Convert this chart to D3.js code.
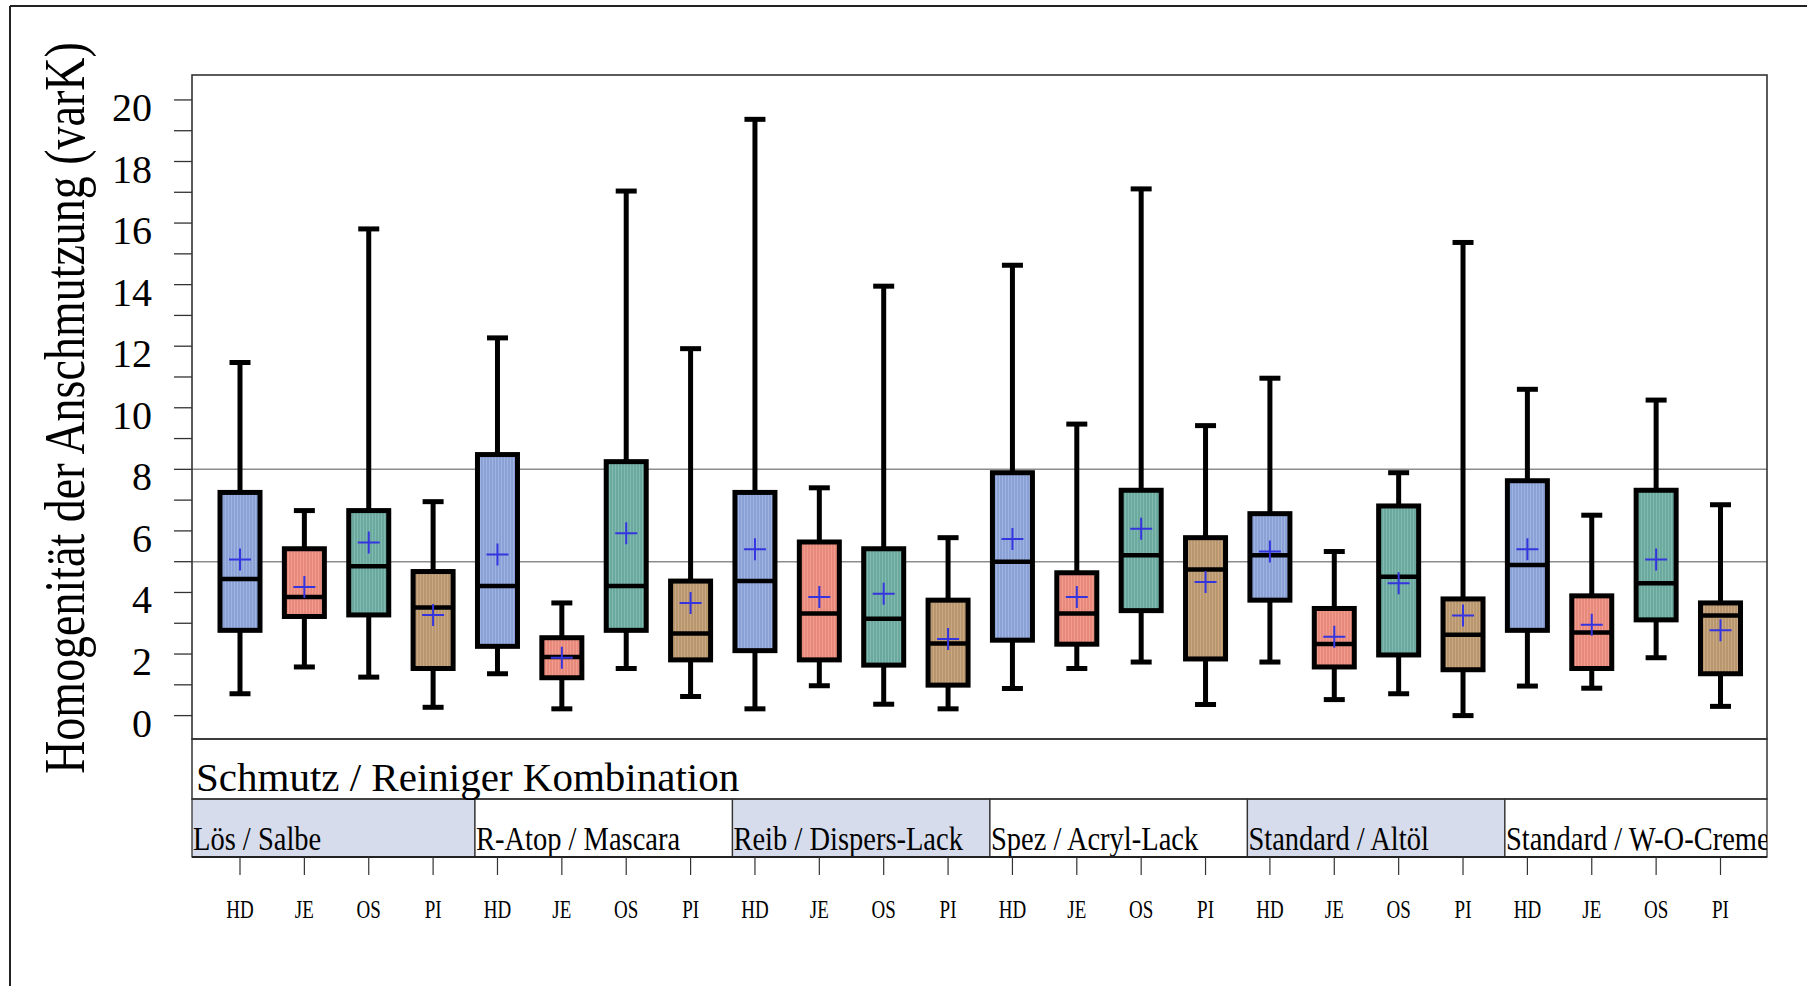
<!DOCTYPE html>
<html>
<head>
<meta charset="utf-8">
<script src="https://cdn.jsdelivr.net/npm/d3@7"></script>
<style>
  html, body { margin: 0; padding: 0; background: #fff; }
  svg { display: block; }
  text { font-family: "Liberation Serif", "DejaVu Serif", serif; fill: #000; }
</style>
</head>
<body>
<svg id="chart" width="1807" height="986"></svg>
<script>
// ---------------- data ----------------
const groups = ["Lös / Salbe", "R-Atop / Mascara", "Reib / Dispers-Lack", "Spez / Acryl-Lack", "Standard / Altöl", "Standard / W-O-Creme"];
const cleaners = ["HD", "JE", "OS", "PI"];
const yTicks = [0, 2, 4, 6, 8, 10, 12, 14, 16, 18, 20];
const refLines = [5, 8];

// one entry per (group, cleaner), in group order
const whiskerHigh = [11.47, 6.66, 15.81, 6.95,  12.27, 3.66, 17.04, 11.92,  19.37, 7.40, 13.95, 5.78,  14.63, 9.47, 17.11, 9.42,  10.96, 5.33, 7.89, 15.37,  10.60, 6.51, 10.25, 6.85];
const q3          = [7.25, 5.42, 6.66, 4.68,   8.48, 2.53, 8.25, 4.37,    7.25, 5.64, 5.42, 3.75,    7.89, 4.64, 7.32, 5.78,    6.56, 3.48, 6.81, 3.79,    7.63, 3.89, 7.32, 3.66];
const median      = [4.44, 3.85, 4.85, 3.51,   4.21, 1.90, 4.21, 2.67,    4.37, 3.32, 3.15, 2.34,    5.00, 3.32, 5.21, 4.75,    5.21, 2.33, 4.51, 2.63,    4.89, 2.70, 4.30, 3.25];
const q1          = [2.77, 3.22, 3.27, 1.53,   2.25, 1.23, 2.77, 1.81,    2.11, 1.81, 1.64, 0.99,    2.45, 2.32, 3.41, 1.84,    3.75, 1.58, 1.97, 1.49,    2.77, 1.53, 3.11, 1.36];
const whiskerLow  = [0.71, 1.58, 1.25, 0.27,   1.36, 0.22, 1.53, 0.62,    0.22, 0.97, 0.37, 0.22,    0.88, 1.53, 1.74, 0.36,    1.74, 0.52, 0.71, 0.00,    0.96, 0.89, 1.88, 0.30];
const meanVal     = [5.07, 4.18, 5.62, 3.27,   5.23, 1.88, 5.92, 3.66,    5.40, 3.85, 3.96, 2.49,    5.74, 3.85, 6.07, 4.34,    5.33, 2.56, 4.30, 3.25,    5.40, 2.95, 5.07, 2.77];

// ---------------- layout ----------------
const W = 1807, H = 986;
const plotL = 192, plotR = 1767, plotT = 75, plotB = 739;
const hdr1B = 799, hdr2B = 857;

const colors = { HD: "#8aa1d6", JE: "#e88a7b", OS: "#6ba99f", PI: "#b8966e" };
const stripe = { HD: "#a0b3e2", JE: "#f09d90", OS: "#80bab1", PI: "#c9a883" };

const rows = [];
groups.forEach((g, gi) => cleaners.forEach((c, ci) => {
  const i = gi * cleaners.length + ci;
  rows.push({ key: g + "|" + c, group: g, cleaner: c,
    hi: whiskerHigh[i], q3: q3[i], med: median[i], q1: q1[i], lo: whiskerLow[i], mean: meanVal[i] });
}));

const x = d3.scalePoint().domain(rows.map(d => d.key)).range([240, 1720.5]);
const y = d3.scaleLinear().domain([-0.76, 20.81]).range([plotB, plotT]);

const svg = d3.select("#chart");

// patterns (vertical fine stripes)
const defs = svg.append("defs");
cleaners.forEach(c => {
  const p = defs.append("pattern").attr("id", "pat-" + c)
    .attr("patternUnits", "userSpaceOnUse").attr("width", 3).attr("height", 10);
  p.append("rect").attr("width", 3).attr("height", 10).attr("fill", colors[c]);
  p.append("rect").attr("x", 0).attr("width", 1).attr("height", 10).attr("fill", stripe[c]);
});

// outer frame (top & left only visible)
svg.append("line").attr("x1", 10).attr("x2", W).attr("y1", 6).attr("y2", 6)
  .attr("stroke", "#222").attr("stroke-width", 2);
svg.append("line").attr("x1", 10).attr("x2", 10).attr("y1", 6).attr("y2", H)
  .attr("stroke", "#222").attr("stroke-width", 2);

// reference lines
svg.selectAll("line.ref").data(refLines).join("line").attr("class", "ref")
  .attr("x1", plotL).attr("x2", plotR).attr("y1", d => y(d)).attr("y2", d => y(d))
  .attr("stroke", "#8c8c8c").attr("stroke-width", 1.5);

// y axis ticks (every integer), labels on even values
const minor = d3.range(0, 21, 1);
svg.selectAll("line.ytick").data(minor).join("line").attr("class", "ytick")
  .attr("x1", plotL - 18).attr("x2", plotL).attr("y1", d => y(d)).attr("y2", d => y(d))
  .attr("stroke", "#333").attr("stroke-width", 1.3);
svg.selectAll("text.ylab").data(yTicks).join("text").attr("class", "ylab")
  .attr("x", 152).attr("y", d => y(d) + 21).attr("text-anchor", "end")
  .attr("font-size", 40).text(d => d);

// y title
svg.append("text")
  .attr("transform", "translate(84,408) rotate(-90) scale(1,1.25)")
  .attr("text-anchor", "middle").attr("font-size", 46)
  .text("Homogenität der Anschmutzung (varK)");

// group cells
const cells = groups.map((g, gi) => {
  const first = rows[gi * 4].key;
  const left = gi === 0 ? plotL : x(first) - 22.5;
  const nextKey = gi < groups.length - 1 ? rows[(gi + 1) * 4].key : null;
  const right = nextKey ? x(nextKey) - 22.5 : plotR;
  return { g, gi, left, right };
});
cells.forEach(c => {
  defs.append("clipPath").attr("id", "clip" + c.gi)
    .append("rect").attr("x", c.left).attr("y", hdr1B).attr("width", c.right - c.left).attr("height", hdr2B - hdr1B);
});
svg.selectAll("rect.cell").data(cells).join("rect").attr("class", "cell")
  .attr("x", d => d.left).attr("y", hdr1B).attr("width", d => d.right - d.left).attr("height", hdr2B - hdr1B)
  .attr("fill", d => d.gi % 2 === 0 ? "#d6dcec" : "#ffffff")
  .attr("stroke", "#333").attr("stroke-width", 1.3);
const gl = svg.selectAll("g.glab").data(cells).join("g").attr("class", "glab")
  .attr("clip-path", d => "url(#clip" + d.gi + ")");
gl.append("text")
  .attr("transform", d => `translate(${d.left + 1},850) scale(1,1.2)`)
  .attr("font-size", 28.5).text(d => d.g);

// header frame
svg.append("rect").attr("x", plotL).attr("y", plotB).attr("width", plotR - plotL).attr("height", hdr1B - plotB)
  .attr("fill", "none").attr("stroke", "#333").attr("stroke-width", 1.5);
svg.append("text").attr("x", 196).attr("y", 791).attr("font-size", 41).text("Schmutz / Reiniger Kombination");
svg.append("line").attr("x1", plotL).attr("x2", plotR).attr("y1", hdr2B).attr("y2", hdr2B)
  .attr("stroke", "#222").attr("stroke-width", 2);

// plot frame
svg.append("rect").attr("x", plotL).attr("y", plotT).attr("width", plotR - plotL).attr("height", plotB - plotT)
  .attr("fill", "none").attr("stroke", "#333").attr("stroke-width", 1.6);

// category ticks and labels
svg.selectAll("line.xtick").data(rows).join("line").attr("class", "xtick")
  .attr("x1", d => x(d.key)).attr("x2", d => x(d.key)).attr("y1", hdr2B).attr("y2", 875)
  .attr("stroke", "#333").attr("stroke-width", 1.2);
svg.selectAll("text.xlab").data(rows).join("text").attr("class", "xlab")
  .attr("transform", d => `translate(${x(d.key)},918) scale(1,1.33)`)
  .attr("text-anchor", "middle").attr("font-size", 19).text(d => d.cleaner);

// boxes
const bw = 40, cw = 21, sw = 5;
const gBox = svg.append("g");
const b = gBox.selectAll("g.box").data(rows).join("g").attr("class", "box");
b.append("line").attr("x1", d => x(d.key)).attr("x2", d => x(d.key))
  .attr("y1", d => y(d.hi)).attr("y2", d => y(d.lo)).attr("stroke", "#000").attr("stroke-width", sw);
b.append("line").attr("x1", d => x(d.key) - cw / 2).attr("x2", d => x(d.key) + cw / 2)
  .attr("y1", d => y(d.hi)).attr("y2", d => y(d.hi)).attr("stroke", "#000").attr("stroke-width", sw);
b.append("line").attr("x1", d => x(d.key) - cw / 2).attr("x2", d => x(d.key) + cw / 2)
  .attr("y1", d => y(d.lo)).attr("y2", d => y(d.lo)).attr("stroke", "#000").attr("stroke-width", sw);
b.append("rect").attr("x", d => x(d.key) - bw / 2).attr("width", bw)
  .attr("y", d => y(d.q3)).attr("height", d => y(d.q1) - y(d.q3))
  .attr("fill", d => `url(#pat-${d.cleaner})`).attr("stroke", "#000").attr("stroke-width", sw);
b.append("line").attr("x1", d => x(d.key) - bw / 2).attr("x2", d => x(d.key) + bw / 2)
  .attr("y1", d => y(d.med)).attr("y2", d => y(d.med)).attr("stroke", "#000").attr("stroke-width", 4.5);
// mean markers
b.append("path")
  .attr("d", d => { const cx = x(d.key), cy = y(d.mean); return `M${cx - 11},${cy}H${cx + 11}M${cx},${cy - 11}V${cy + 11}`; })
  .attr("stroke", "#3535e0").attr("stroke-width", 2).attr("fill", "none");
</script>
</body>
</html>
